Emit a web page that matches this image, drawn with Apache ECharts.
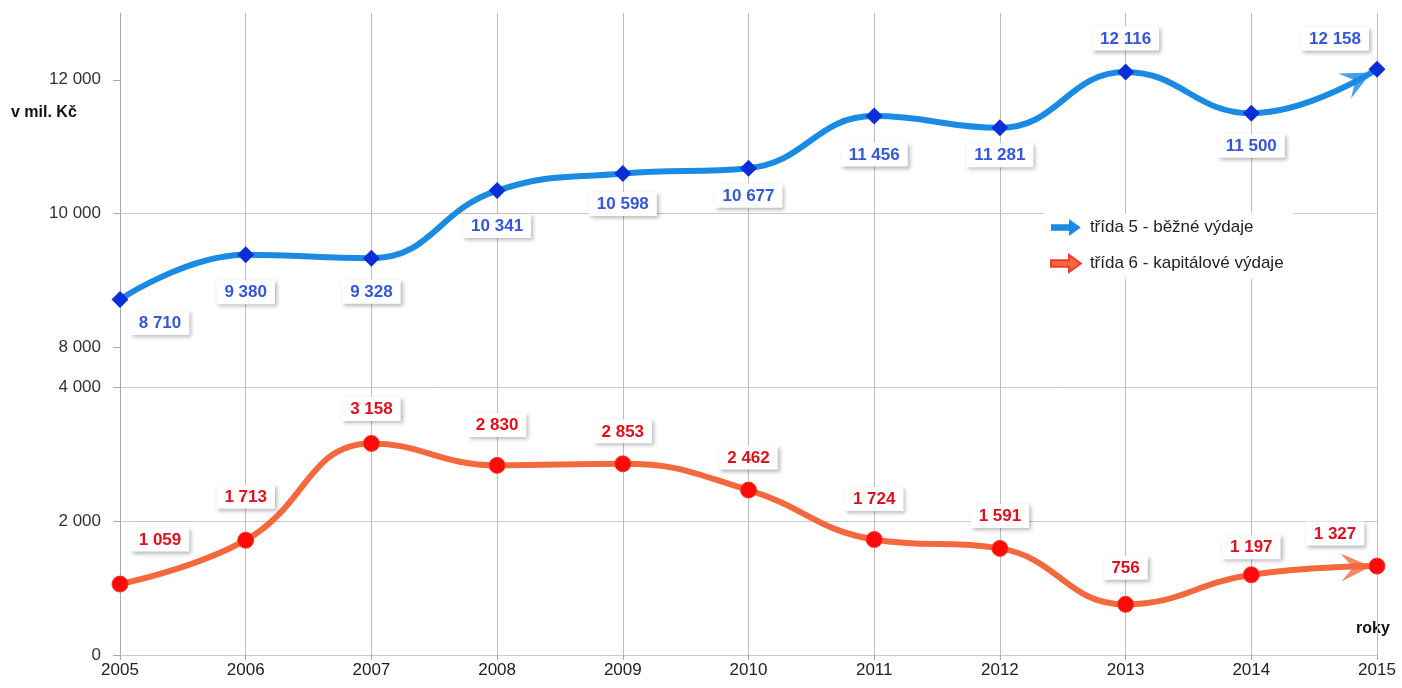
<!DOCTYPE html>
<html>
<head>
<meta charset="UTF-8">
<title>Výdaje</title>
<script src="https://cdn.jsdelivr.net/npm/echarts@6/dist/echarts.min.js"></script>
<style>
  html, body { margin: 0; padding: 0; background: #fff; }
  #main { width: 1402px; height: 688px; }
</style>
</head>
<body>
<div id="main"></div>
<script>
// data
var years = ['2005','2006','2007','2008','2009','2010','2011','2012','2013','2014','2015'];
var bezne = [8710, 9380, 9328, 10341, 10598, 10677, 11456, 11281, 12116, 11500, 12158];
var kapitalove = [1059, 1713, 3158, 2830, 2853, 2462, 1724, 1591, 756, 1197, 1327];
var topTicks = [8000, 10000, 12000];
var bottomTicks = [0, 2000, 4000];
var names = ['třída 5 - běžné výdaje', 'třída 6 - kapitálové výdaje'];

var blueLine = '#1a8ae2', blueDot = '#0b2fd6', blueText = '#3557d8';
var redLine = '#f4683e', redDot = '#ff0a0a', redText = '#e0101c';
var font = 'Liberation Sans, Arial, sans-serif';

function fmt(v) {
  return String(v).replace(/\B(?=(\d{3})+(?!\d))/g, ' ');
}

var labelBase = {
  show: true,
  formatter: function (p) { return fmt(p.value); },
  fontFamily: font,
  fontSize: 17,
  fontWeight: 'bold',
  backgroundColor: '#fff',
  padding: [4, 8, 3, 8],
  shadowColor: 'rgba(0,0,0,0.28)',
  shadowBlur: 4,
  shadowOffsetX: 2,
  shadowOffsetY: 2
};

// per point label tweaks (style only)
var blueLabelOpt = [
  {position: 'bottom', offset: [40, -10]},
  {position: 'bottom', offset: [0, 4]},
  {position: 'bottom', offset: [0, 0]},
  {position: 'bottom', offset: [0, 2]},
  {position: 'bottom', offset: [0, -3]},
  {position: 'bottom', offset: [0, -6]},
  {position: 'bottom', offset: [0, 5]},
  {position: 'bottom', offset: [0, -6]},
  {position: 'top', offset: [0, 0]},
  {position: 'bottom', offset: [0, -1]},
  {position: 'top', offset: [-42, 3]}
];
var redLabelOpt = [
  {offset: [40, -8]},
  {offset: [0, -7]},
  {offset: [0, 2]},
  {offset: [0, -4]},
  {offset: [0, 4]},
  {offset: [0, 4]},
  {offset: [0, -4]},
  {offset: [0, 4]},
  {offset: [0, 0]},
  {offset: [0, 9]},
  {offset: [-42, 4]}
];

var blueData = bezne.map(function (v, i) {
  return {value: v, label: blueLabelOpt[i]};
});
var redData = kapitalove.map(function (v, i) {
  return {value: v, label: redLabelOpt[i]};
});

var last = years.length - 1;
var arrowPath = 'path://M0,0 L20,10 L0,20 L8,10 Z';
var legendIcon = 'path://M0,5 L17,5 L17,0 L28,8 L17,16 L17,11 L0,11 Z';

var gridLine = '#c8c8c8';

var option = {
  animation: false,
  textStyle: {fontFamily: font},
  grid: [
    {left: 120, right: 25, top: 13, height: 374},
    {left: 120, right: 25, top: 387, height: 268}
  ],
  legend: {
    orient: 'vertical',
    left: 1044,
    top: 213,
    padding: [6, 10, 6, 6],
    backgroundColor: '#fff',
    itemWidth: 38,
    itemHeight: 17,
    itemGap: 18,
    textStyle: {fontSize: 17, color: '#222', fontFamily: font},
    data: [
      {name: names[0], icon: legendIcon, itemStyle: {color: blueLine}},
      {name: names[1], icon: legendIcon, itemStyle: {color: redLine}}
    ]
  },
  xAxis: [
    {
      gridIndex: 0, type: 'category', data: years, boundaryGap: false,
      axisLine: {show: false}, axisTick: {show: false}, axisLabel: {show: false},
      splitLine: {show: true, lineStyle: {color: '#bdbdbd', width: 1}}
    },
    {
      gridIndex: 1, type: 'category', data: years, boundaryGap: false,
      axisLine: {show: true, lineStyle: {color: gridLine}},
      axisTick: {show: true, length: 5, lineStyle: {color: '#aaa'}},
      axisLabel: {color: '#222', fontSize: 17, margin: 7, fontFamily: font},
      splitLine: {show: true, lineStyle: {color: '#bdbdbd', width: 1}}
    }
  ],
  yAxis: [
    {
      gridIndex: 0, type: 'value', min: 7400, max: 13000, interval: 2000,
      axisLine: {show: true, lineStyle: {color: '#aaa'}},
      axisTick: {show: true, length: 7, customValues: topTicks, lineStyle: {color: '#aaa'}},
      axisLabel: {customValues: topTicks, formatter: fmt, color: '#333', fontSize: 17, margin: 19, fontFamily: font},
      splitLine: {show: true, showMinLine: false, showMaxLine: false, lineStyle: {color: gridLine}}
    },
    {
      gridIndex: 1, type: 'value', min: 0, max: 4000, interval: 2000,
      axisLine: {show: true, lineStyle: {color: '#aaa'}},
      axisTick: {show: true, length: 7, customValues: bottomTicks, lineStyle: {color: '#aaa'}},
      axisLabel: {customValues: bottomTicks, formatter: fmt, color: '#333', fontSize: 17, margin: 19, fontFamily: font},
      splitLine: {show: true, lineStyle: {color: gridLine}}
    }
  ],
  graphic: [
    {type: 'text', left: 11, top: 105, style: {text: 'v mil. Kč', font: 'bold 16px ' + font, fill: '#111'}},
    {type: 'text', left: 1356, top: 621, style: {text: 'roky', font: 'bold 16px ' + font, fill: '#111'}}
  ],
  series: [
    {
      name: 'arrow5', type: 'scatter', xAxisIndex: 0, yAxisIndex: 0, z: 2, silent: true,
      data: [[last, bezne[last]]],
      symbol: arrowPath, symbolSize: [30, 28], symbolRotate: 27, symbolOffset: [-19, 10],
      itemStyle: {color: blueLine}
    },
    {
      name: 'arrow6', type: 'scatter', xAxisIndex: 1, yAxisIndex: 1, z: 2, silent: true,
      data: [[last, kapitalove[last]]],
      symbol: arrowPath, symbolSize: [30, 28], symbolRotate: 2, symbolOffset: [-21, 1],
      itemStyle: {color: redLine}
    },
    {
      name: names[0], type: 'line', xAxisIndex: 0, yAxisIndex: 0, z: 3,
      data: blueData, smooth: 0.45,
      symbol: 'diamond', symbolSize: 17, showAllSymbol: true,
      lineStyle: {color: blueLine, width: 6},
      itemStyle: {color: blueDot},
      label: Object.assign({}, labelBase, {color: blueText, distance: 13})
    },
    {
      name: names[1], type: 'line', xAxisIndex: 1, yAxisIndex: 1, z: 3,
      data: redData, smooth: 0.45,
      symbol: 'circle', symbolSize: 16, showAllSymbol: true,
      lineStyle: {color: redLine, width: 6},
      itemStyle: {color: redDot, borderColor: '#f03a2a', borderWidth: 1},
      label: Object.assign({}, labelBase, {color: redText, position: 'top', distance: 16})
    }
  ]
};

var myChart = echarts.init(document.getElementById('main'));
myChart.setOption(option);
</script>
</body>
</html>
